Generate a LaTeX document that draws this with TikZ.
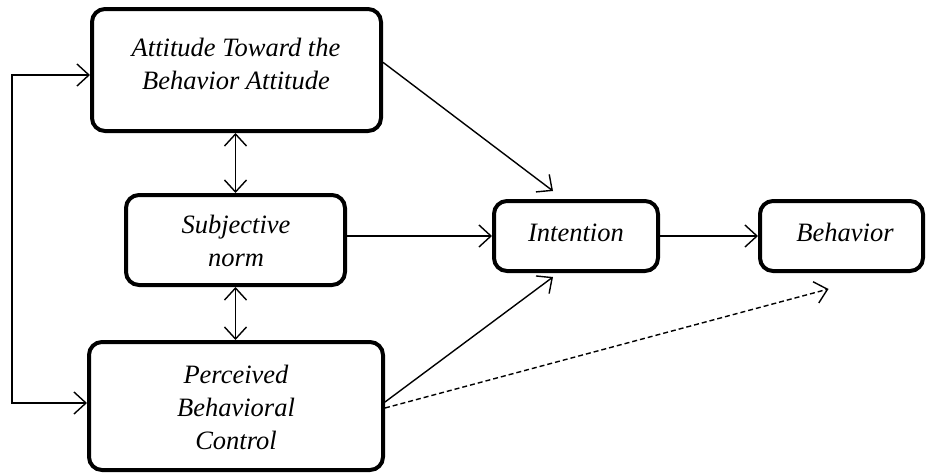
\documentclass[tikz,border=0pt]{standalone}
\usepackage{fontspec}
\setmainfont{Liberation Serif}
\usetikzlibrary{arrows.meta,positioning}

\begin{document}
\begin{tikzpicture}[x=1pt,y=-1pt,
  box/.style={draw,line width=4pt,rounded corners=13pt,inner sep=0pt},
  lbl/.style={font=\fontsize{26.5}{33}\selectfont\itshape,align=center,inner sep=0pt,anchor=base},
  arr/.style={-{Straight Barb[length=12pt,width=22pt,line width=1.4pt]},line width=1.4pt},
  dbl/.style={{Straight Barb[length=12pt,width=22pt,line width=1.4pt]}-{Straight Barb[length=12pt,width=22pt,line width=1.4pt]},line width=1.4pt}]
\useasboundingbox (0,0) rectangle (927,474);

% Boxes
\node[box,minimum width=289pt,minimum height=122pt] (att) at (236.5,70) {};
\node[box,minimum width=219pt,minimum height=90pt] (subj) at (235.5,240) {};
\node[box,minimum width=294pt,minimum height=128pt] (pbc) at (236,406) {};
\node[box,minimum width=164pt,minimum height=70pt] (intent) at (576,236) {};
\node[box,minimum width=163pt,minimum height=70pt] (behav) at (841.5,236) {};

% Labels
\node[lbl] (attlbl) at (236,89) {Attitude Toward the\\Behavior Attitude};
\node[lbl] (subjlbl) at (236,266) {Subjective\\norm};
\node[lbl] (pbclbl) at (236,449) {Perceived\\Behavioral\\Control};
\node[lbl] (intentlbl) at (576,241) {Intention};
\node[lbl] (behavlbl) at (845,241) {Behavior};

% Feedback loop
\coordinate (fb) at (12,240);
\draw[arr] (fb) |- ([yshift=-5pt]att.west);
\draw[arr] (fb) |- ([yshift=3pt]pbc.west);

% Correlations
\draw[dbl] (subj.north |- att.south) -- (subj.north);
\draw[dbl] (subj.south) -- (subj.south |- pbc.north);

% Paths
\draw[arr] (att.3) -- ([xshift=-23pt,yshift=8pt]intent.north);
\draw[arr] (intent.west -| subj.east) -- (intent.west);
\draw[arr] ([yshift=4pt]pbc.east) -- ([xshift=-23pt,yshift=-4pt]intent.south);
\draw[arr] (intent.east) -- (behav.west);
\draw[arr,dash pattern=on 5pt off 3pt] ([yshift=-2pt]pbc.east) -- ([xshift=-13pt,yshift=-16pt]behav.south);
\end{tikzpicture}
\end{document}
